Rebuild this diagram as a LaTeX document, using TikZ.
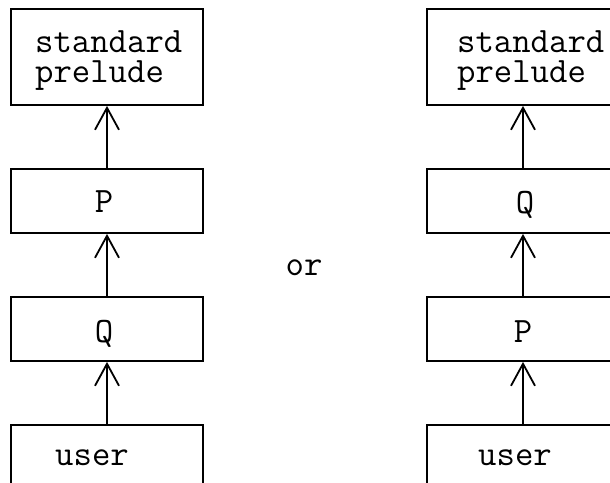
\documentclass[tikz,border=0pt]{standalone}
\usepackage{fontspec}
\usetikzlibrary{arrows.meta}
\tikzset{
  modbox/.style={draw, line width=1.8pt, minimum width=192pt, inner sep=0pt},
  label/.style={font=\fontsize{35.7}{30}\selectfont\ttfamily, inner sep=0pt},
  uses/.style={line width=1.8pt, -{Straight Barb[length=22pt,width=24pt,line width=1.8pt]}}
}
\begin{document}
\begin{tikzpicture}[x=1pt,y=-1pt]
\useasboundingbox (0,0) rectangle (610,482);
% left ordering
\node[modbox, minimum height=96pt] (ls) at (107,57) {};
\node[modbox, minimum height=64pt] (lp) at (107,201) {};
\node[modbox, minimum height=64pt] (lq) at (107,329) {};
\node[modbox, minimum height=96pt] (lu) at (107,473) {};
\node[label, align=left, anchor=base west] (lst) at (35,82) {standard\\prelude};
\node[label, anchor=base] (lpt) at (104,212) {P};
\node[label, anchor=base] (lqt) at (104,342) {Q};
\node[label, anchor=base] (lut) at (92,465) {user};
\draw[uses] (lp.north) -- (ls.south);
\draw[uses] (lq.north) -- (lp.south);
\draw[uses] (lu.north) -- (lq.south);
% the alternative
\node[label, anchor=base] (or) at (304,275) {or};
% right ordering
\node[modbox, minimum height=96pt] (rs) at (523,57) {};
\node[modbox, minimum height=64pt] (rq) at (523,201) {};
\node[modbox, minimum height=64pt] (rp) at (523,329) {};
\node[modbox, minimum height=96pt] (ru) at (523,473) {};
\node[label, align=left, anchor=base west] (rst) at (457,82) {standard\\prelude};
\node[label, anchor=base] (rqt) at (525,213) {Q};
\node[label, anchor=base] (rpt) at (523,342) {P};
\node[label, anchor=base] (rut) at (515,465) {user};
\draw[uses] (rq.north) -- (rs.south);
\draw[uses] (rp.north) -- (rq.south);
\draw[uses] (ru.north) -- (rp.south);
\end{tikzpicture}
\end{document}
